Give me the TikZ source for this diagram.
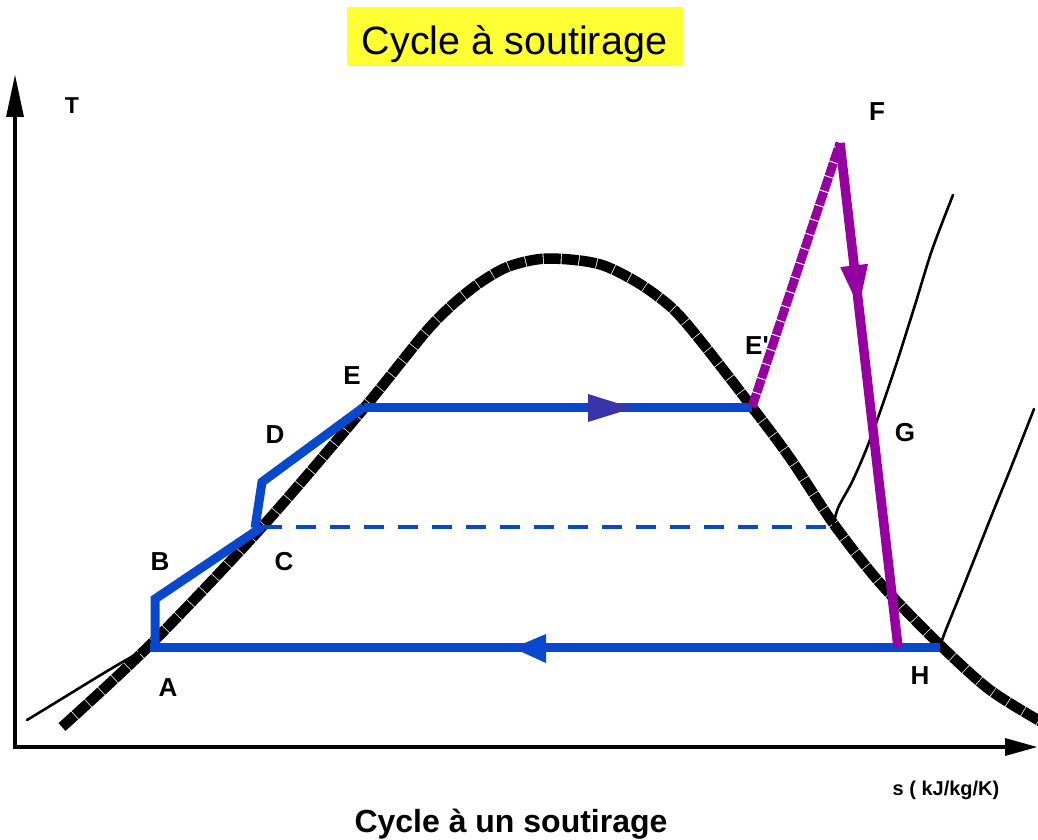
\documentclass[tikz,border=0pt]{standalone}
\usepackage{fontspec}
\setmainfont{Liberation Sans}[Ligatures=TeXOff]
\usetikzlibrary{calc}
\definecolor{cblue}{RGB}{8,72,204}
\definecolor{cdark}{RGB}{58,52,170}
\definecolor{cpurp}{RGB}{150,0,160}
\definecolor{cyellow}{RGB}{255,255,51}
\begin{document}
\begin{tikzpicture}[x=1pt,y=-1pt,
  lbl/.style={font=\fontsize{26}{31}\selectfont\bfseries, inner sep=0pt},
  dome/.style={line width=10.5pt, dash pattern=on 17pt off 0.9pt, line join=round},
  thinline/.style={line width=2.6pt, line cap=round, line join=round},
  cyc/.style={line width=9pt, draw=cblue, line join=miter},
  axis/.style={line width=4pt}]
\useasboundingbox (0,0) rectangle (1038,840);
% title
\fill[cyellow] (347,7) rectangle (683,66);
\node[anchor=base, inner sep=0pt, font=\fontsize{39.5}{46}\selectfont] (title) at (514.5,55) {Cycle à soutirage};
\node[anchor=base, inner sep=0pt, font=\fontsize{32}{38}\selectfont\bfseries] (caption) at (511,832) {Cycle à un soutirage};
% axes
\coordinate (O) at (15,747);
\coordinate (Ty) at (15,75);
\coordinate (Sx) at (1037,747);
\draw[axis] (O) -- ($(Ty)+(0,38)$);
\fill (Ty) -- (6,117) -- (24,117) -- cycle;
\draw[axis] (13,747) -- ($(Sx)+(-30,0)$);
\fill (Sx) -- (1005,738) -- (1005,756) -- cycle;
\node[font=\fontsize{23}{27}\selectfont\bfseries, inner sep=0pt] (T) at (72,106) {T};
\node[anchor=base, font=\fontsize{20}{24}\selectfont\bfseries, inner sep=0pt] (sunit) at (946,795) {s ( kJ/kg/K)};
% key points
\coordinate (A) at (150,647);
\coordinate (B) at (155,599);
\coordinate (C) at (262,527);
\coordinate (Cb) at (255,528);
\coordinate (D) at (262,482);
\coordinate (E) at (364,407);
\coordinate (Ep) at (752,407);
\coordinate (F) at (840,143);
\coordinate (H2) at (898,647);
\coordinate (H) at (940,647);
\coordinate (Cd) at (833,527);
% dome
\draw[dome] plot[smooth, tension=0.5] coordinates {(62,727) (150,645) (262,527) (365,407) (430,327) (470,290) (505,268) (540,259) (575,260) (605,266) (640,284) (672,308) (700,340) (752,407) (790,458) (833,523) (880,583) (938,643) (990,690) (1045,724)};
% thin lines
\draw[thinline] (27,720) .. controls (80,688) and (120,662) .. (A);
\draw[thinline] plot[smooth, tension=0.5] coordinates {(Cd) (838,508) (852,482) (866,450) (880,412) (896,365) (915,305) (932,250) (953,195)};
\draw[thinline] plot[smooth, tension=0.5] coordinates {(H) (945,632) (962,590) (993,512) (1010,470) (1034,409)};
% blue cycle
\draw[cyc] (H) -- (A);
\draw[cyc] (155,644) -- (B) -- (C);
\draw[cyc] (Cb) -- (D) -- (E);
\draw[cyc] (E) -- (Ep);
\draw[draw=cblue, line width=4.5pt, dash pattern=on 20pt off 14pt] (C) -- (Cd);
\fill[cblue] (513,648) -- (546,634) -- (546,663) -- cycle;
\fill[cdark] (633,408) -- (588,394) -- (588,422) -- cycle;
% purple
\draw[line width=9pt, draw=cpurp, dash pattern=on 14pt off 1.2pt] (Ep) -- (F);
\draw[line width=9.5pt, draw=cpurp] (F) -- (H2);
\coordinate (ptip) at ($(F)!0.325!(H2)$);
\coordinate (pbase) at ($(F)!0.243!(H2)$);
\fill[cpurp] (ptip) -- ($(pbase)!14pt!90:(F)$) -- ($(pbase)!14pt!-90:(F)$) -- cycle;
% labels
\node[lbl] (lA) at (168,688) {A};
\node[lbl] (lB) at (160,562) {B};
\node[lbl] (lC) at (284,562) {C};
\node[lbl] (lD) at (275,435) {D};
\node[lbl] (lE) at (352,376) {E};
\node[lbl] (lEp) at (757,346) {E'};
\node[lbl] (lF) at (877,112) {F};
\node[lbl] (lG) at (905,433) {G};
\node[lbl] (lH) at (920,676) {H};
\end{tikzpicture}
\end{document}
